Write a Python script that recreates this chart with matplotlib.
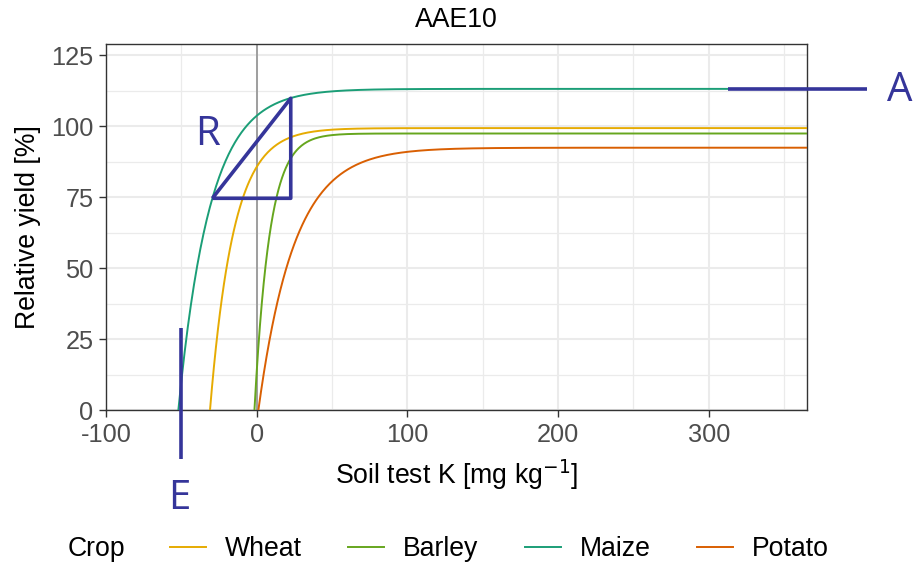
import numpy as np
import matplotlib.pyplot as plt
from matplotlib.lines import Line2D

# Mitscherlich parameters: y = A * (1 - exp(-R * (x - E)))
crops = ['Wheat', 'Barley', 'Maize', 'Potato']
colors = ['#E6AB02', '#66A61E', '#1B9E77', '#D95F02']
A_vals = [99.3, 97.4, 113.1, 92.4]
E_vals = [-31.0, -1.5, -52.0, 1.1]
R_vals = [0.064, 0.100, 0.0477, 0.042]

x_ticks = [-100, 0, 100, 200, 300]
y_ticks = [0, 25, 50, 75, 100, 125]
x_max = 365

plt.rcParams['font.family'] = ['Liberation Sans', 'DejaVu Sans']

fig = plt.figure(figsize=(9.13, 5.66), dpi=100)
ax = fig.add_axes([0.1161, 0.2751, 0.7675, 0.6477])

grid_col = '#EBEBEB'
for v in np.arange(-100, 400, 50):
    ax.axvline(v, color=grid_col, lw=1.5 if v % 100 == 0 else 0.9, zorder=0)
for v in np.arange(0, 130, 12.5):
    ax.axhline(v, color=grid_col, lw=1.5 if v % 25 == 0 else 0.9, zorder=0)
ax.axvline(0, color='#999999', lw=1.3, zorder=1)

for crop, col, A, E, R in zip(crops, colors, A_vals, E_vals, R_vals):
    xs = np.linspace(E, x_max, 600)
    ys = A * (1 - np.exp(-R * (xs - E)))
    ax.plot(xs, ys, color=col, lw=1.4, label=crop, zorder=3)

ax.set_xlim(-100, x_max)
ax.set_ylim(0, 129)
ax.set_xticks(x_ticks)
ax.set_xticklabels([str(t) for t in x_ticks])
ax.set_yticks(y_ticks)
for s in ax.spines.values():
    s.set_color('#333333')
    s.set_linewidth(1.0)
ax.tick_params(length=5, width=1.0, color='#333333', labelcolor='#4D4D4D',
               labelsize=18.3, pad=4)
ax.set_title('AAE10', fontsize=19.2, pad=12)
ax.set_xlabel('Soil test K [mg kg$^{-1}$]', fontsize=19.2, labelpad=8)
ax.set_ylabel('Relative yield [%]', fontsize=19.2, labelpad=7)

# annotations
navy = '#35359A'
ann = dict(color=navy, lw=2.6, clip_on=False, zorder=5, solid_capstyle='butt')
ax.plot([-29.4, 22.6, 22.6, -29.4], [74.6, 109.8, 74.6, 74.6], **ann)
ax.plot([313, 405], [113.1, 113.1], **ann)
ax.plot([-50, -50], [28.8, -17.3], **ann)
lf = dict(color=navy, fontsize=29, family=['Open Sans', 'DejaVu Sans'],
          ha='center', va='center')
fig.text(208 / 913, 1 - 135 / 566, 'R', **lf)
fig.text(900 / 913, 1 - 91 / 566, 'A', **lf)
fig.text(179 / 913, 1 - 499 / 566, 'E', **lf)

# legend
handles = [Line2D([], [], color=c, lw=1.4) for c in colors]
fig.text(68 / 913, 1 - 549 / 566, 'Crop', fontsize=19.2, va='center', ha='left')
fig.legend(handles, crops, loc='center left', bbox_to_anchor=(170 / 913, 1 - 549 / 566),
           ncol=4, frameon=False, fontsize=19.2, handlelength=1.35,
           handletextpad=0.7, columnspacing=1.75, borderaxespad=0, borderpad=0)

fig.savefig('out.png', dpi=100)
